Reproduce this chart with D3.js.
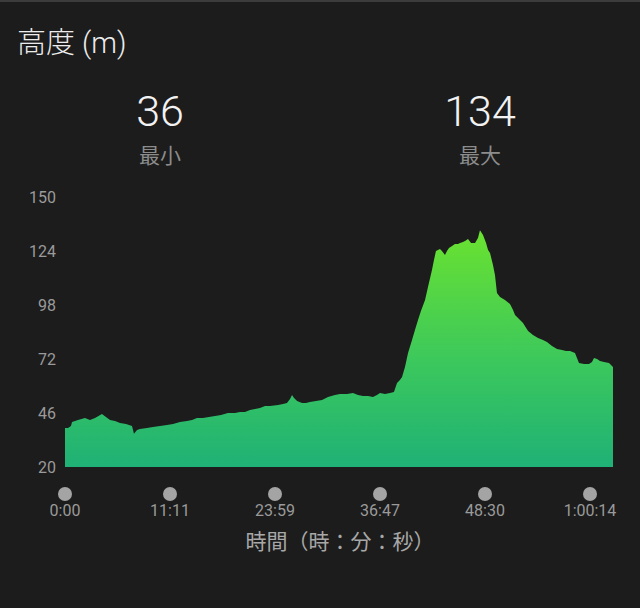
<!DOCTYPE html>
<html><head><meta charset="utf-8">
<script src="https://cdn.jsdelivr.net/npm/d3@7"></script>
<style>html,body{margin:0;padding:0;background:#1c1c1c;}svg{display:block;}</style>
</head><body>
<svg id="c" width="640" height="608"></svg>
<script>
const title = "高度 (m)";
const statValues = ["36", "134"];
const statLabels = ["最小", "最大"];
const yTicks = [20, 46, 72, 98, 124, 150];
const xTickPositions = [0, 1, 2, 3, 4, 5];
const xTickLabels = ["0:00", "11:11", "23:59", "36:47", "48:30", "1:00:14"];
const xTitle = "時間（時：分：秒）";
const position = [0,0.029,0.057,0.067,0.124,0.190,0.238,0.286,0.352,0.390,0.429,0.476,0.524,0.581,0.638,0.657,0.686,0.714,0.781,0.838,0.905,0.971,1.029,1.095,1.162,1.210,1.257,1.314,1.371,1.429,1.486,1.552,1.619,1.667,1.714,1.762,1.810,1.857,1.905,1.952,2.029,2.076,2.114,2.143,2.162,2.181,2.210,2.257,2.295,2.333,2.390,2.448,2.505,2.571,2.619,2.686,2.743,2.790,2.838,2.886,2.933,2.971,3.000,3.048,3.095,3.133,3.162,3.190,3.210,3.238,3.267,3.305,3.333,3.362,3.390,3.429,3.457,3.495,3.514,3.533,3.571,3.590,3.619,3.638,3.657,3.686,3.714,3.743,3.762,3.790,3.810,3.838,3.867,3.905,3.933,3.952,3.981,4.010,4.029,4.048,4.076,4.095,4.114,4.143,4.190,4.238,4.267,4.286,4.324,4.362,4.410,4.457,4.505,4.552,4.590,4.638,4.686,4.733,4.771,4.810,4.857,4.876,4.895,4.943,4.990,5.019,5.038,5.067,5.095,5.133,5.181,5.200,5.219];
const elevation = [38.8,38.8,39.7,41.7,42.6,43.6,42.6,43.6,45.5,44.1,42.6,42.1,41.2,40.7,39.7,36.0,37.8,38.3,38.8,39.3,39.7,40.2,40.7,41.7,42.1,42.6,43.6,43.6,44.1,44.6,45.0,46.0,46.0,46.5,46.5,47.4,47.9,48.4,49.4,49.4,49.9,50.3,50.8,52.7,54.7,53.2,51.8,50.8,50.8,51.3,51.8,52.3,53.7,54.7,55.1,55.1,55.6,54.7,54.2,54.2,53.7,54.7,55.6,55.1,55.6,56.1,60.4,61.9,63.3,68.2,74.9,81.2,86.0,90.8,95.1,100.4,106.7,114.9,119.7,124.0,125.0,124.0,122.1,124.0,125.4,126.4,127.4,127.4,127.9,128.3,128.8,129.8,127.9,127.9,130.3,134.0,131.7,127.9,124.5,123.0,117.3,112.4,103.8,101.9,100.4,98.5,95.6,93.2,91.3,89.3,85.5,83.6,82.1,81.2,80.2,78.3,76.8,76.3,75.9,75.9,74.9,72.5,70.1,69.6,69.6,70.6,72.5,72.0,71.0,70.6,70.1,69.1,68.2];

const svg = d3.select("#c");
svg.append("rect").attr("x",0).attr("y",0).attr("width",640).attr("height",608).attr("fill","#1c1c1c");
svg.append("rect").attr("x",0).attr("y",0).attr("width",640).attr("height",2).attr("fill","#3c3c3c");

const font = "Roboto, 'Noto Sans CJK JP', sans-serif";
const x = d3.scaleLinear().domain([0, d3.max(position)]).range([65, 613]);
const y = d3.scaleLinear().domain([20, 150]).range([467, 197]);

svg.append("text").attr("x",17).attr("y",53).attr("fill","#ececec").attr("font-size",29).attr("font-weight",300).attr("font-family",font).text(title);

const statX = [160, 480];
statValues.forEach((v,i)=>{
  svg.append("text").attr("x",statX[i]).attr("y",126).attr("text-anchor","middle").attr("fill","#f2f2f2")
    .attr("font-size",43).attr("font-weight",300).attr("font-family",font).text(v);
  svg.append("text").attr("x",statX[i]).attr("y",163).attr("text-anchor","middle").attr("fill","#8c8c8c")
    .attr("font-size",21).attr("font-family",font).text(statLabels[i]);
});

const defs = svg.append("defs");
const grad = defs.append("linearGradient").attr("id","g").attr("gradientUnits","userSpaceOnUse")
  .attr("x1",0).attr("x2",0).attr("y1",y(134)).attr("y2",y(20));
grad.append("stop").attr("offset","0%").attr("stop-color","#6ae230");
grad.append("stop").attr("offset","55%").attr("stop-color","#3cc85c");
grad.append("stop").attr("offset","100%").attr("stop-color","#1fb176");

const data = position.map((p,i)=>({p, e: elevation[i]}));
const area = d3.area().x(d=>x(d.p)).y0(y(20)).y1(d=>y(d.e)).curve(d3.curveLinear);
svg.append("path").datum(data).attr("d",area).attr("fill","url(#g)");

const yAxis = svg.append("g");
yAxis.selectAll("text").data(yTicks).join("text")
  .attr("x",56).attr("y",d=>y(d)).attr("dy","0.35em").attr("text-anchor","end")
  .attr("fill","#9a9a9a").attr("font-size",16).attr("font-family",font).text(d=>d);

const xAxis = svg.append("g");
xAxis.selectAll("circle").data(xTickPositions).join("circle")
  .attr("cx",d=>x(d)).attr("cy",494).attr("r",7).attr("fill","#a4a4a4");
xAxis.selectAll("text").data(xTickPositions).join("text")
  .attr("x",d=>x(d)).attr("y",516).attr("text-anchor","middle")
  .attr("fill","#9a9a9a").attr("font-size",16).attr("font-family",font).text((d,i)=>xTickLabels[i]);

svg.append("text").attr("x",340).attr("y",549).attr("text-anchor","middle").attr("fill","#a8a8a8")
  .attr("font-size",21).attr("font-family",font).text(xTitle);
</script>
</body></html>
